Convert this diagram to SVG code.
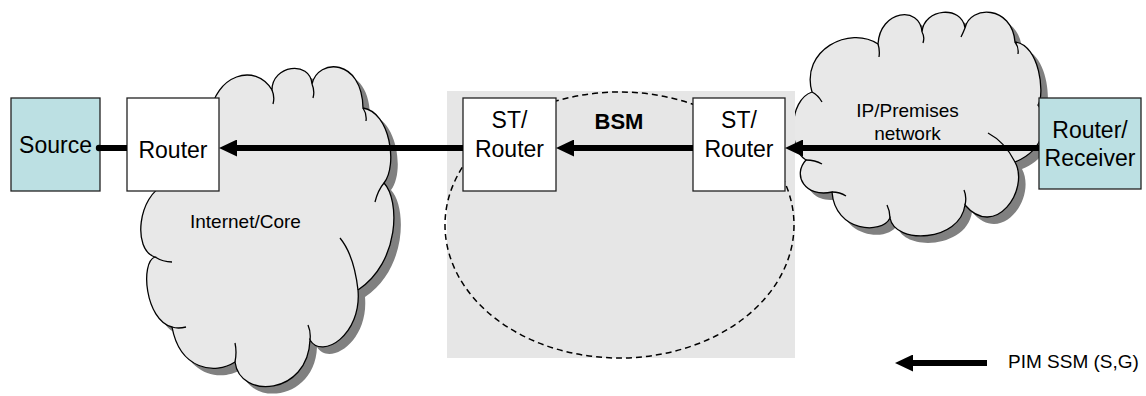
<svg xmlns="http://www.w3.org/2000/svg" xmlns:xlink="http://www.w3.org/1999/xlink" width="1146" height="396" viewBox="0 0 1146 396">
<style>
  text { font-family: "Liberation Sans", Arial, sans-serif; fill: #000; }
  .lbl { font-size: 23px; text-anchor: middle; }
  .small { font-size: 19px; }
  .bold { font-size: 22px; font-weight: bold; text-anchor: middle; }
  .box { fill: #fff; stroke: #222; stroke-width: 1.3; }
  .teal { fill: #bce0e3; stroke: #222; stroke-width: 1.3; }
  .cloud { fill: #e8e8e8; stroke: #000; stroke-width: 1.3; }
  .shadow { fill: #808080; stroke: none; }
  .inner { fill: none; stroke: #000; stroke-width: 1.3; }
  .flow { fill: none; stroke: #000; stroke-width: 6; }
</style>
<defs>
  <marker id="ah" markerUnits="userSpaceOnUse" markerWidth="18" markerHeight="17" viewBox="0 0 18 17" refX="2" refY="8.5" orient="auto">
    <path d="M0,0 L18,8.5 L0,17 z" fill="#000"/>
  </marker>
  <path id="cloud1" d="M210,115 C215,75 255,62 272,90 C272,65 310,60 312,84 C318,58 362,58 363,108 C390,112 398,165 384,183 C400,200 400,262 358,290 C362,335 322,360 310,340 C308,395 240,400 235,362 C215,375 180,370 172,327 C145,320 140,262 155,257 C132,250 138,195 165,185 Z"/>
  <path id="cloud2" d="M812,92 C800,50 850,25 878,44 C880,10 920,5 922,32 C924,8 962,5 965,28 C970,5 1012,5 1015,42 C1040,45 1045,95 1038,105 C1050,120 1045,150 1015,162 C1030,190 995,240 965,205 C960,242 895,245 890,218 C882,235 835,232 832,192 C805,198 792,175 806,160 C788,150 788,100 812,92 Z"/>
</defs>

<g id="cloud-internet-core">
  <use xlink:href="#cloud1" class="shadow" transform="translate(7,7)"/>
  <use xlink:href="#cloud1" class="cloud"/>
  <path class="inner" d="M272,90 Q275,97 273,104 M312,84 Q315,91 313,98 M363,108 Q367,114 366,121 M384,183 Q378,190 375,202 M358,290 Q354,255 340,238 M310,340 Q311,332 308,325 M235,362 Q237,352 235,343 M172,327 Q178,329 186,327 M155,257 Q163,262 172,262"/>
  <text class="small" x="190" y="228">Internet/Core</text>
</g>

<g id="cloud-premises">
  <use xlink:href="#cloud2" class="shadow" transform="translate(7,7)"/>
  <use xlink:href="#cloud2" class="cloud"/>
  <path class="inner" d="M878,44 Q880,50 879,57 M922,32 Q925,37 923,43 M965,28 Q963,33 961,37 M1015,42 Q1019,47 1018,54 M1015,162 Q1005,142 988,133 M965,205 Q967,197 964,190 M890,218 Q890,211 887,205 M832,192 Q840,192 846,196 M806,160 Q815,160 822,164 M812,92 Q818,95 822,102"/>
  <text class="small" x="907.5" y="117" text-anchor="middle">IP/Premises</text>
  <text class="small" x="907.5" y="140" text-anchor="middle">network</text>
</g>

<g id="bsm-region">
  <rect x="447" y="91" width="348" height="267" fill="#e6e6e6"/>
  <ellipse cx="619.5" cy="225" rx="174.5" ry="133" fill="none" stroke="#000" stroke-width="1.5" stroke-dasharray="6 4"/>
  <text class="bold" x="619" y="129">BSM</text>
</g>

<g id="source">
  <rect class="teal" x="11" y="98" width="89" height="93"/>
  <text class="lbl" x="55.5" y="153">Source</text>
</g>

<g id="router">
  <rect class="box" x="127" y="98" width="92" height="93"/>
  <text class="lbl" x="173" y="158">Router</text>
</g>

<g id="st-router-1">
  <rect class="box" x="463" y="98" width="93" height="93"/>
  <text class="lbl" x="509.5" y="128">ST/</text>
  <text class="lbl" x="509.5" y="157">Router</text>
</g>

<g id="st-router-2">
  <rect class="box" x="693" y="98" width="92" height="93"/>
  <text class="lbl" x="739" y="128">ST/</text>
  <text class="lbl" x="739" y="157">Router</text>
</g>

<g id="router-receiver">
  <rect class="teal" x="1039" y="98" width="102" height="91"/>
  <text class="lbl" x="1090" y="138">Router/</text>
  <text class="lbl" x="1090" y="166">Receiver</text>
</g>

<g id="connectors">
  <line class="flow" x1="100" y1="148" x2="127" y2="148"/>
  <circle cx="99" cy="148" r="3.2" fill="#000"/>
  <line class="flow" x1="463" y1="148" x2="235" y2="148" marker-end="url(#ah)"/>
  <line class="flow" x1="693" y1="148" x2="572" y2="148" marker-end="url(#ah)"/>
  <line class="flow" x1="1039" y1="148" x2="801" y2="148" marker-end="url(#ah)"/>
</g>

<g id="legend">
  <line class="flow" x1="987" y1="363" x2="911" y2="363" marker-end="url(#ah)"/>
  <text class="small" x="1008" y="368">PIM SSM (S,G)</text>
</g>
</svg>
